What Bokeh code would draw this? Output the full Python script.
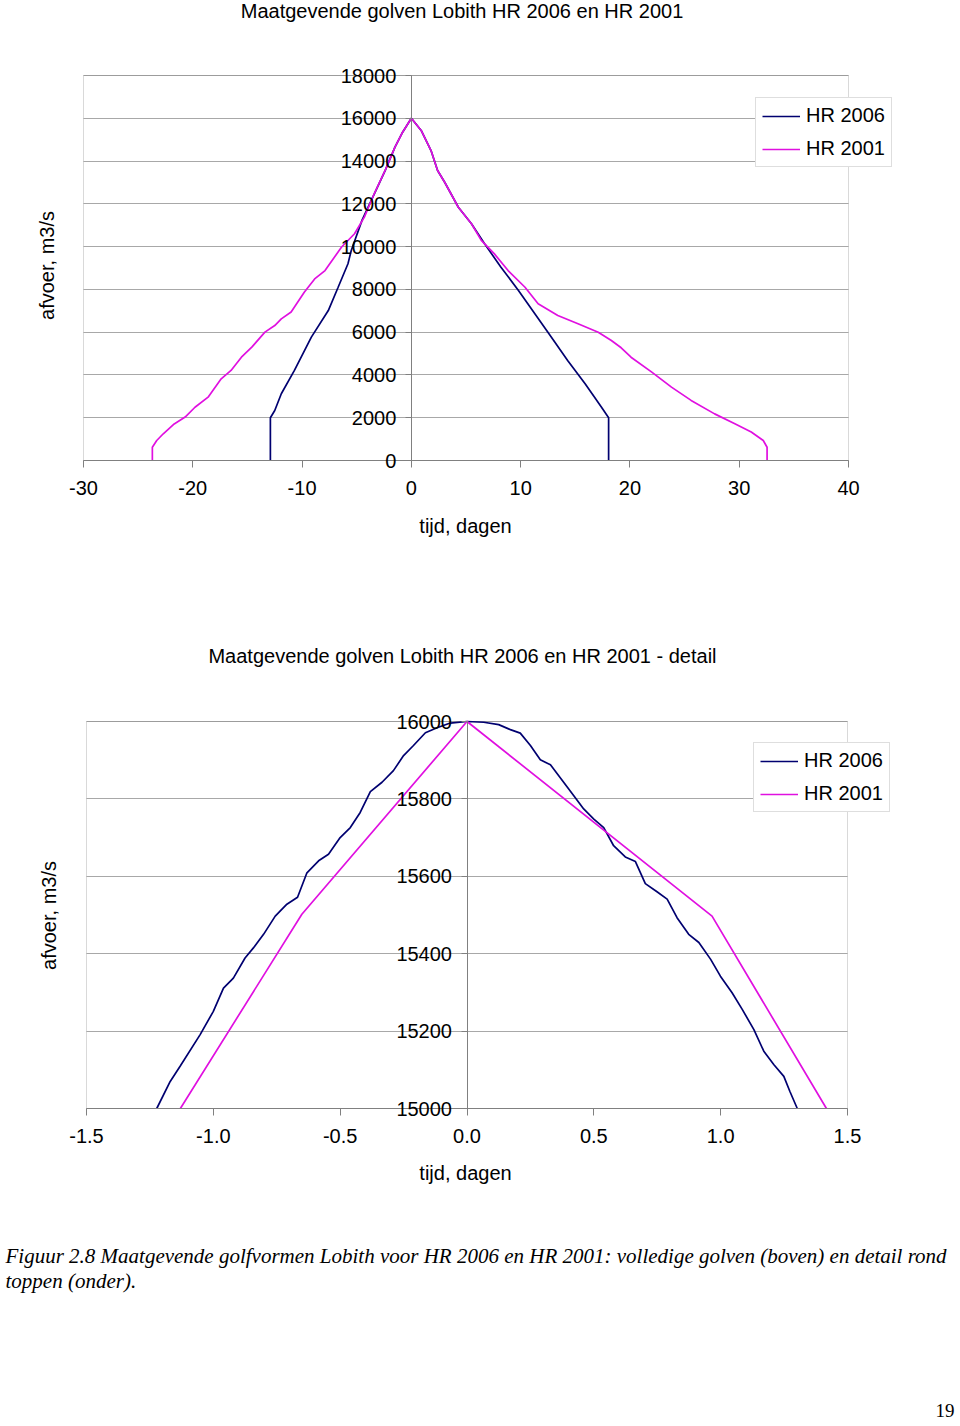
import math
from bokeh.plotting import figure
from bokeh.models import Range1d, FixedTicker, NumeralTickFormatter, Label, BoxAnnotation
from bokeh.layouts import column
from bokeh.embed import file_html
from bokeh.resources import INLINE

# ---------------- data ----------------
# full waves (top chart): time in days, discharge m3/s
t_hr2006 = [-12.9, -12.9, -12.5, -11.9, -10.7, -9.15, -7.6, -6.7, -5.8, -5.5, -4.5, -3.4,
            -2.4, -1.5, -0.8, 0.0, 0.9, 1.8, 2.4, 3.05, 4.3, 5.5, 6.7, 8.2, 9.8, 11.3,
            12.8, 14.3, 15.9, 17.4, 18.05, 18.05]
q_hr2006 = [0, 2000, 2340, 3120, 4210, 5770, 7010, 8100, 9200, 9820, 11250, 12450,
            13550, 14650, 15350, 16000, 15430, 14490, 13560, 13010, 11840, 11070, 10130,
            9040, 7950, 6860, 5770, 4680, 3590, 2490, 2000, 0]

t_hr2001 = [-23.7, -23.7, -23.3, -22.7, -21.7, -20.7, -19.8, -18.6, -17.4, -16.5, -15.55,
            -14.6, -13.4, -12.5, -11.9, -11.0, -9.8, -8.85, -7.9, -6.4, -5.2, -4.3, -3.4,
            -2.4, -1.5, -0.8, 0.0, 0.9, 1.8, 2.4, 3.05, 4.3, 5.5, 6.4, 7.6, 8.85, 10.4,
            11.6, 13.4, 15.25, 17.1, 18.3, 19.2, 20.1, 22.0, 23.8, 25.6, 27.75, 29.6,
            31.1, 32.2, 32.55, 32.55]
q_hr2001 = [0, 620, 935, 1250, 1710, 2030, 2490, 2960, 3820, 4210, 4830, 5300, 6000, 6310,
            6620, 6940, 7870, 8490, 8880, 9970, 10600, 11380, 12470, 13560, 14650, 15350,
            16000, 15430, 14490, 13560, 13010, 11840, 11070, 10290, 9660, 8880, 8100, 7330,
            6780, 6390, 6000, 5610, 5270, 4830, 4130, 3430, 2810, 2180, 1720, 1330, 935,
            620, 0]

# detail around the peaks (bottom chart)
td_hr2006 = [-1.223, -1.170, -1.131, -1.052, -1.000, -0.960, -0.921, -0.875, -0.842, -0.802,
             -0.756, -0.710, -0.668, -0.631, -0.585, -0.546, -0.500, -0.460, -0.421, -0.381,
             -0.335, -0.290, -0.250, -0.211, -0.164, -0.118, -0.066, 0.0, 0.066, 0.125,
             0.171, 0.210, 0.250, 0.289, 0.329, 0.381, 0.421, 0.460, 0.500, 0.539, 0.578,
             0.624, 0.664, 0.703, 0.749, 0.789, 0.828, 0.874, 0.914, 0.960, 0.999, 1.045,
             1.085, 1.131, 1.170, 1.210, 1.249, 1.273, 1.302]
qd_hr2006 = [15000, 15070, 15109, 15191, 15251, 15311, 15337, 15389, 15415, 15450, 15497,
             15528, 15546, 15609, 15640, 15657, 15700, 15726, 15765, 15819, 15843, 15873,
             15912, 15938, 15971, 15984, 15996, 16000, 15998, 15992, 15979, 15970, 15938,
             15901, 15888, 15843, 15808, 15774, 15748, 15726, 15679, 15650, 15638, 15581,
             15560, 15541, 15493, 15450, 15429, 15386, 15342, 15299, 15256, 15204, 15148,
             15113, 15083, 15044, 15000]
td_hr2001 = [-1.13, -0.651, 0.0, 0.966, 1.417]
qd_hr2001 = [15000, 15502, 16000, 15497, 15000]

x_ticks_full = [-30, -20, -10, 0, 10, 20, 30, 40]
y_ticks_full = [0, 2000, 4000, 6000, 8000, 10000, 12000, 14000, 16000, 18000]
x_ticks_detail = [-1.5, -1.0, -0.5, 0.0, 0.5, 1.0, 1.5]
y_ticks_detail = [15000, 15200, 15400, 15600, 15800, 16000]

series_names = ["HR 2006", "HR 2001"]
title_full = "Maatgevende golven Lobith HR 2006 en HR 2001"
title_detail = "Maatgevende golven Lobith HR 2006 en HR 2001 - detail"
x_label = "tijd, dagen"
y_label = "afvoer, m3/s"
caption_1 = ("Figuur 2.8 Maatgevende golfvormen Lobith voor HR 2006 en HR 2001: "
             "volledige golven (boven) en detail rond")
caption_2 = "toppen (onder)."
page_no = "19"

# ---------------- style / layout ----------------
FONT = "Liberation Sans"
NAVY = "#000070"
MAGENTA = "#E010E0"
GRID = "#a8a8a8"
AXIS = "#808080"
FS = "20px"
W = 960


def frame_map(xv, xp, yv, yp, H):
    """Ranges so that data values xv/yv land on pixel positions xp/yp (frame = canvas)."""
    sx = (xp[1] - xp[0]) / (xv[1] - xv[0])
    sy = (yp[0] - yp[1]) / (yv[1] - yv[0])
    xr = (xv[0] - xp[0] / sx, xv[0] + (W - xp[0]) / sx)
    yr = (yv[0] - (H - yp[0]) / sy, yv[0] + yp[0] / sy)
    fx = lambda px: xv[0] + (px - xp[0]) / sx
    fy = lambda py: yv[0] + (yp[0] - py) / sy
    return xr, yr, fx, fy


def make_chart(H, xv, xp, yv, yp, xt, yt, xfmt, title, title_pos, xlab_pos, ylab_pos,
               legend_loc, lines):
    xr, yr, fx, fy = frame_map(xv, xp, yv, yp, H)
    p = figure(width=W, height=H, x_range=Range1d(*xr), y_range=Range1d(*yr),
               output_backend="svg", toolbar_location=None, title=None, min_border=0)
    p.background_fill_color = "white"
    p.border_fill_color = "white"
    p.outline_line_color = None

    # plot-area border
    p.add_layout(BoxAnnotation(left=xv[0], right=xv[1], bottom=yv[0], top=yv[1],
                               fill_alpha=0, line_color=AXIS, line_width=1, level="underlay"))

    # x axis at the bottom of the plot area
    ax = p.xaxis[0]
    ax.fixed_location = yv[0]
    ax.bounds = (xv[0], xv[1])
    ax.ticker = FixedTicker(ticks=xt)
    ax.formatter = NumeralTickFormatter(format=xfmt)
    ax.major_label_text_font = FONT
    ax.major_label_text_font_size = FS
    ax.major_label_text_color = "black"
    ax.major_label_standoff = 13
    ax.axis_line_color = AXIS
    ax.major_tick_line_color = AXIS
    ax.major_tick_out = 7
    ax.major_tick_in = 0
    ax.minor_tick_line_color = None

    # y axis crossing at x = 0
    ay = p.yaxis[0]
    ay.fixed_location = 0
    ay.bounds = (yv[0], yv[1])
    ay.ticker = FixedTicker(ticks=yt)
    ay.formatter = NumeralTickFormatter(format="0")
    ay.major_label_text_font = FONT
    ay.major_label_text_font_size = FS
    ay.major_label_text_color = "black"
    ay.major_label_standoff = 9
    ay.axis_line_color = AXIS
    ay.major_tick_line_color = AXIS
    ay.major_tick_out = 6
    ay.major_tick_in = 0
    ay.minor_tick_line_color = None

    p.xgrid.visible = False
    p.ygrid.grid_line_color = GRID
    p.ygrid.grid_line_width = 1
    p.ygrid[0].cross_bounds = (xv[0], xv[1])

    common = dict(text_font=FONT, text_font_size=FS, text_color="black",
                  text_align="center", text_baseline="middle")
    p.add_layout(Label(x=fx(title_pos[0]), y=fy(title_pos[1]), text=title, **common))
    p.add_layout(Label(x=fx(xlab_pos[0]), y=fy(xlab_pos[1]), text=x_label, **common))
    p.add_layout(Label(x=fx(ylab_pos[0]), y=fy(ylab_pos[1]), text=y_label,
                       angle=math.pi / 2, **common))

    for (xs, ys, color, name) in lines:
        p.line(xs, ys, line_color=color, line_width=1.7, legend_label=name)

    lg = p.legend[0]
    lg.location = legend_loc
    lg.label_text_font = FONT
    lg.label_text_font_size = FS
    lg.label_text_color = "black"
    lg.glyph_width = 38
    lg.glyph_height = 20
    lg.label_height = 20
    lg.label_standoff = 6
    lg.spacing = 10
    lg.padding = 6
    lg.margin = 0
    lg.border_line_color = "#bdbdbd"
    lg.border_line_width = 1
    lg.background_fill_color = "white"
    lg.background_fill_alpha = 1.0
    return p


H1, H2, H3 = 580, 640, 204

p1 = make_chart(H1, (-30, 40), (83, 848), (0, 18000), (460, 75),
                x_ticks_full, y_ticks_full, "0",
                title_full, (461.5, 10), (465, 525), (46, 265), (755, H1 - 167),
                [(t_hr2006, q_hr2006, NAVY, series_names[0]),
                 (t_hr2001, q_hr2001, MAGENTA, series_names[1])])

off = H1
p2 = make_chart(H2, (-1.5, 1.5), (86, 847), (15000, 16000), (1108 - off, 721 - off),
                x_ticks_detail, y_ticks_detail, "0.0",
                title_detail, (462, 655 - off), (465, 1172 - off), (48, 915 - off),
                (753, H2 - (812 - off)),
                [(td_hr2006, qd_hr2006, NAVY, series_names[0]),
                 (td_hr2001, qd_hr2001, MAGENTA, series_names[1])])

# caption area
p3 = figure(width=W, height=H3, x_range=Range1d(0, W), y_range=Range1d(0, H3),
            output_backend="svg", toolbar_location=None, min_border=0, title=None,
            x_axis_location=None, y_axis_location=None)
p3.outline_line_color = None
p3.grid.grid_line_color = None
p3.border_fill_color = "white"
off3 = H1 + H2
for txt, yy in [(caption_1, 1255), (caption_2, 1280)]:
    p3.add_layout(Label(x=5, y=H3 - (yy - off3), text=txt, text_font="Liberation Serif",
                        text_font_style="italic", text_font_size="21px",
                        text_baseline="middle", text_align="left", text_color="black"))
p3.add_layout(Label(x=W - 6, y=14, text=page_no, text_font="Liberation Serif",
                    text_font_size="19px", text_baseline="middle", text_align="right",
                    text_color="black"))

layout = column(p1, p2, p3, spacing=0)
open("out.html", "w").write(file_html(layout, INLINE))
